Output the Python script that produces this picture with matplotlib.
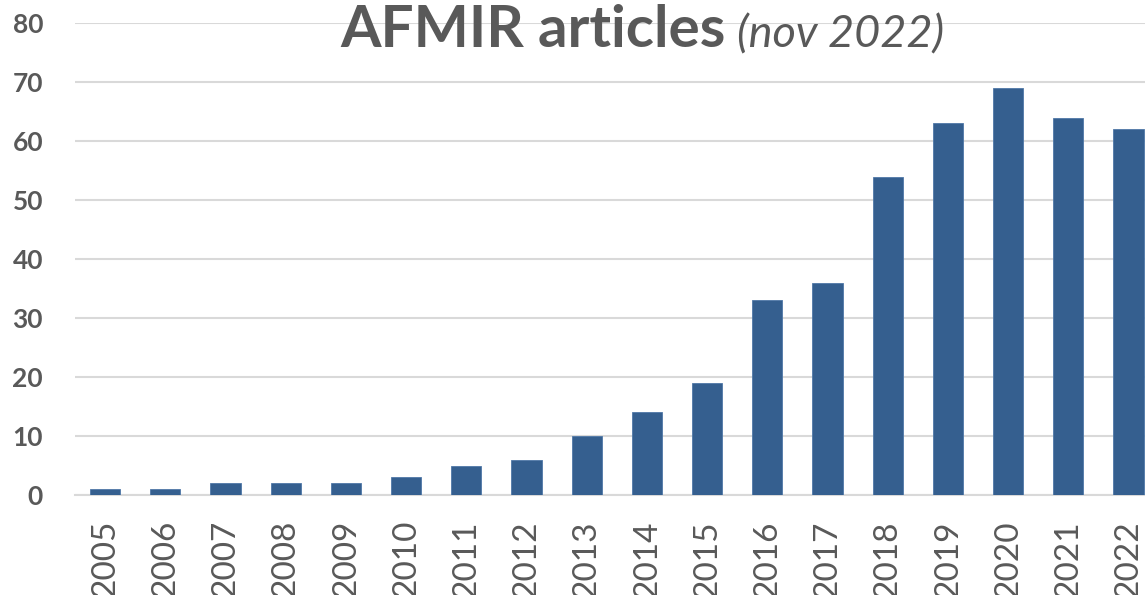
import matplotlib.pyplot as plt

# yearly article counts
years = ["2005", "2006", "2007", "2008", "2009", "2010", "2011", "2012", "2013",
         "2014", "2015", "2016", "2017", "2018", "2019", "2020", "2021", "2022"]
articles = [1, 1, 2, 2, 2, 3, 5, 6, 10, 14, 19, 33, 36, 54, 63, 69, 64, 62]
y_ticks = [0, 10, 20, 30, 40, 50, 60, 70, 80]

bar_color = "#355F8F"
text_color = "#595959"
grid_color = "#D9D9D9"

plt.rcParams['font.family'] = ['Lato', 'DejaVu Sans']

fig = plt.figure(figsize=(11.45, 5.95), dpi=100)
ax = fig.add_axes([0.0655, 0.168, 0.9464, 0.793])

x = range(len(years))
ax.bar(x, articles, width=0.5, color=bar_color, edgecolor="#4F78A8", linewidth=0.6, zorder=3)

ax.set_xlim(-0.5, len(years) - 0.5)
ax.set_ylim(0, 80)
ax.set_yticks(y_ticks)
ax.set_yticklabels([str(t) for t in y_ticks], fontsize=19, fontweight="bold", color=text_color)
ax.set_xticks(list(x))
ax.set_xticklabels(years, rotation=90, fontsize=24, color=text_color)
ax.tick_params(axis="y", length=0, pad=23)
ax.tick_params(axis="x", length=0, pad=18)

ax.grid(axis="y", color=grid_color, linewidth=1.5, zorder=0)
for side in ["top", "right", "left"]:
    ax.spines[side].set_visible(False)
ax.spines["bottom"].set_color(grid_color)
ax.spines["bottom"].set_linewidth(1.5)

fig.text(0.634, 0.921, "AFMIR articles", fontsize=42, fontweight="bold",
         color=text_color, ha="right", va="baseline")
fig.text(0.644, 0.921, "(nov 2022)", fontsize=32.5, style="italic",
         color=text_color, ha="left", va="baseline")

fig.savefig("out.png", dpi=100)
